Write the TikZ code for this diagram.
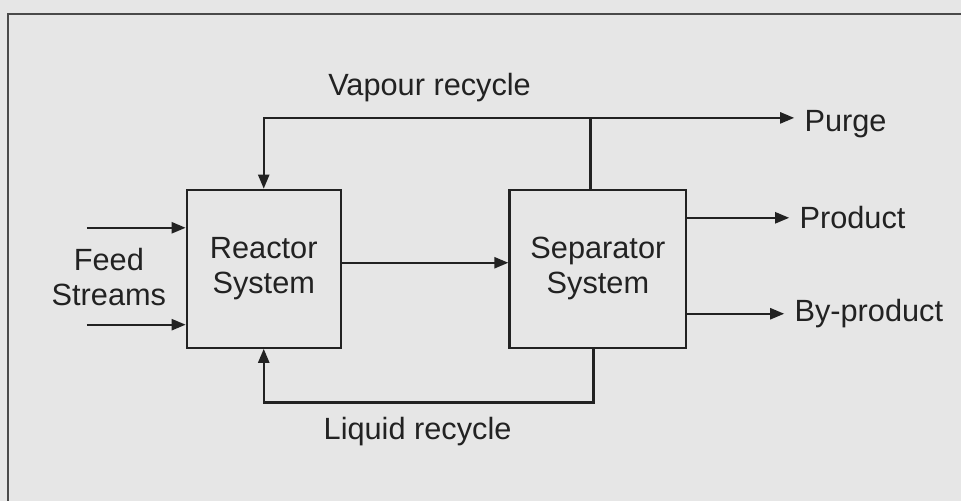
\documentclass[tikz,border=0pt]{standalone}
\usepackage{fontspec}
\setmainfont{Liberation Sans}
\usetikzlibrary{arrows.meta}
\definecolor{paper}{HTML}{E6E6E6}
\definecolor{ink}{HTML}{222222}
\definecolor{framegray}{HTML}{4A4A4A}

\begin{document}
\begin{tikzpicture}[x=0.02cm, y=-0.02cm,
	font=\fontsize{17.5pt}{19.9pt}\selectfont, text=ink,
	unit/.style={draw=ink, line width=1.3pt, minimum height=3.16cm, align=center},
	stream/.style={draw=ink, line width=1.3pt},
	flow/.style={stream, -{Triangle[length=0.28cm, width=0.22cm]}},
	outlet/.style={anchor=base west, inner xsep=0.2cm, inner ysep=0pt}]
	% background and frame
	\fill[paper] (0,0) rectangle (962,501);
	\draw[framegray, line width=1.1pt] (8,501) -- (8,14) -- (962,14);
	% process units
	\node[unit, minimum width=3.08cm] (reactor) at (264,269) {Reactor\\System};
	\node[unit, minimum width=3.54cm] (separator) at (598.5,269) {Separator\\System};
	% feed streams
	\node[align=center] (feed) at (109,277) {Feed\\Streams};
	\coordinate (feedA) at (87,228);
	\coordinate (feedB) at (87,325);
	\draw[flow] (feedA) -- (feedA -| reactor.west);
	\draw[flow] (feedB) -- (feedB -| reactor.west);
	% reactor effluent to separator
	\draw[flow] ([yshift=0.12cm]reactor.east) -- ([yshift=0.12cm]separator.west);
	% outlets
	\node[outlet] (purge) at (795,132) {Purge};
	\node[outlet] (product) at (790,229) {Product};
	\node[outlet] (byproduct) at (785,322) {By-product};
	\draw[flow] (separator.east |- product.west) -- (product.west);
	\draw[flow] (separator.east |- byproduct.west) -- (byproduct.west);
	% vapour recycle with purge
	\coordinate (split) at (591,118);
	\coordinate (vapour) at (264,118);
	\draw[stream] (separator.north -| split) -- (split);
	\draw[flow] (split) -- (purge.west |- split);
	\draw[flow] (split) -- (vapour) -- (reactor.north);
	\node (vapourlabel) at (430,88) {Vapour recycle};
	% liquid recycle
	\coordinate (liquid) at (264,403);
	\draw[flow] ([xshift=-0.09cm]separator.south) |- (liquid) -- (reactor.south);
	\node (liquidlabel) at (418,432) {Liquid recycle};
\end{tikzpicture}
\end{document}
